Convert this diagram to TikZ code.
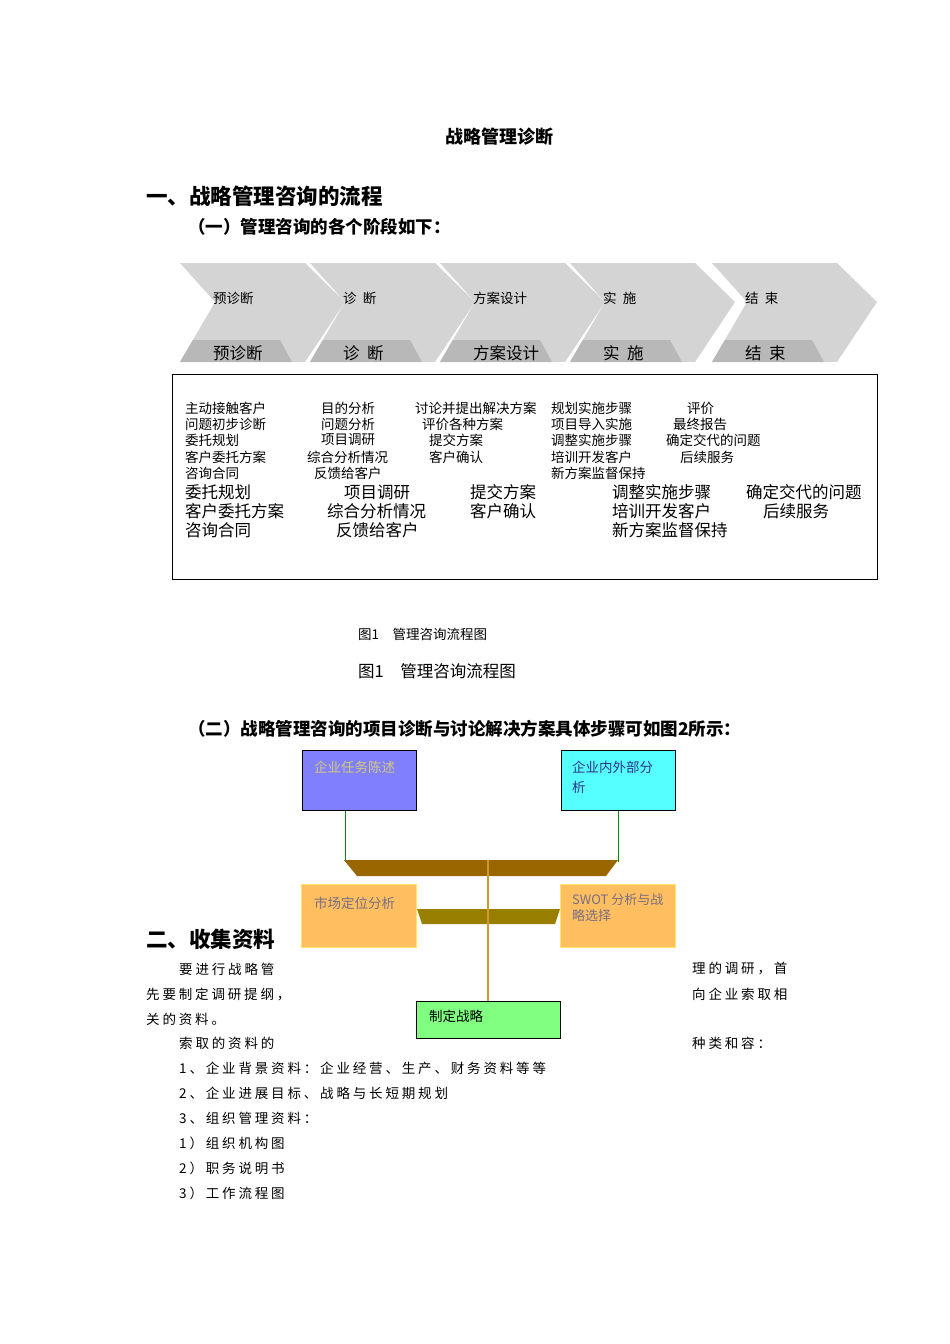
\documentclass[tikz,border=0pt]{standalone}
\usepackage{fontspec}
\setmainfont{Noto Sans CJK SC}
\newfontfamily\cjks[LetterSpace=21]{Noto Sans CJK SC}
\definecolor{brA}{RGB}{153,102,0}
\definecolor{brB}{RGB}{153,127,0}
\definecolor{stem}{RGB}{204,153,51}
\definecolor{bxA}{RGB}{128,128,255}
\definecolor{bxAt}{RGB}{210,200,120}
\definecolor{bxB}{RGB}{85,255,255}
\definecolor{bxBt}{RGB}{50,50,140}
\definecolor{org}{RGB}{255,191,96}
\definecolor{orgd}{RGB}{255,230,100}
\definecolor{orgt}{RGB}{120,110,130}
\definecolor{grn}{RGB}{128,255,128}
\begin{document}
\begin{tikzpicture}[x=1pt,y=-1pt,
  sm/.style={anchor=west,inner sep=0,font=\fontsize{13.5}{13.5}\selectfont},
  lg/.style={anchor=west,inner sep=0,font=\fontsize{16.5}{16.5}\selectfont},
  body/.style={anchor=west,inner sep=0,font=\cjks\fontsize{13.5}{13.5}\selectfont},
  box/.style={draw=black,line width=0.8pt,anchor=north west,inner sep=0},
  obox/.style={anchor=north west,inner sep=0,fill=org,draw=orgd,minimum width=115,minimum height=63},
  btx/.style={anchor=north west,inner sep=0,font=\fontsize{13.5}{13.5}\selectfont}]
\useasboundingbox (0,0) rectangle (950,1344);
% titles
\node[inner sep=0,font=\bfseries\fontsize{18}{18}\selectfont] (t0) at (499,137) {战略管理诊断};
\node[anchor=west,inner sep=0,font=\bfseries\fontsize{21.5}{21.5}\selectfont] (t1) at (146,196) {一、战略管理咨询的流程};
\node[anchor=west,inner sep=0,font=\bfseries\fontsize{17.5}{17.5}\selectfont] (t2) at (188,227) {（一）管理咨询的各个阶段如下：};
% chevrons
\foreach \s/\lab/\n in {180/预诊断/a,310/诊\ \ 断/b,440/方案设计/c,570/实\ \ 施/d,712/结\ \ 束/e}{
  \begin{scope}
  \clip (\s,263) -- (\s+125,263) -- (\s+165,302) -- (\s+125,362) -- (\s,362) -- (\s+35,302) -- cycle;
  \fill[black!17] (\s,263) rectangle (\s+170,362);
  \fill[black!28] (\s,340) -- (\s+100,340) -- (\s+112,362) -- (\s,362) -- cycle;
  \end{scope}
  \node[sm] (ct\n) at (\s+33,298) {\lab};
  \node[lg] (cb\n) at (\s+33,353) {\lab};
}
\draw[line width=0.9pt] (172,374) rectangle (877,579);
% small rows
\node[sm] (s11) at (185,408) {主动接触客户};
\node[sm] (s12) at (185,424) {问题初步诊断};
\node[sm] (s13) at (185,440) {委托规划};
\node[sm] (s14) at (185,457) {客户委托方案};
\node[sm] (s15) at (185,473) {咨询合同};
\node[sm] (s21) at (321,408) {目的分析};
\node[sm] (s22) at (321,424) {问题分析};
\node[sm] (s23) at (321,440) {项目调研};
\node[sm] (s24) at (307,457) {综合分析情况};
\node[sm] (s25) at (314,473) {反馈给客户};
\node[sm] (s31) at (415,408) {讨论并提出解决方案};
\node[sm] (s32) at (422,424) {评价各种方案};
\node[sm] (s33) at (429,440) {提交方案};
\node[sm] (s34) at (429,457) {客户确认};
\node[sm] (s41) at (551,408) {规划实施步骤};
\node[sm] (s42) at (551,424) {项目导入实施};
\node[sm] (s43) at (551,440) {调整实施步骤};
\node[sm] (s44) at (551,457) {培训开发客户};
\node[sm] (s45) at (551,473) {新方案监督保持};
\node[sm] (s51) at (687,408) {评价};
\node[sm] (s52) at (673,424) {最终报告};
\node[sm] (s53) at (666,440) {确定交代的问题};
\node[sm] (s54) at (680,457) {后续服务};
% large rows
\node[lg] (l11) at (185,492) {委托规划};
\node[lg] (l12) at (185,511) {客户委托方案};
\node[lg] (l13) at (185,530) {咨询合同};
\node[lg] (l21) at (344,492) {项目调研};
\node[lg] (l22) at (327,511) {综合分析情况};
\node[lg] (l23) at (336,530) {反馈给客户};
\node[lg] (l31) at (470,492) {提交方案};
\node[lg] (l32) at (470,511) {客户确认};
\node[lg] (l41) at (612,492) {调整实施步骤};
\node[lg] (l42) at (612,511) {培训开发客户};
\node[lg] (l43) at (612,530) {新方案监督保持};
\node[lg] (l51) at (746,492) {确定交代的问题};
\node[lg] (l52) at (763,511) {后续服务};
% captions
\node[sm] (cap1) at (358,634) {图1\quad 管理咨询流程图};
\node[lg] (cap2) at (358,671) {图1\quad 管理咨询流程图};
\node[anchor=west,inner sep=0,font=\bfseries\fontsize{17.5}{17.5}\selectfont] (t3) at (188,729) {（二）战略管理咨询的项目诊断与讨论解决方案具体步骤可如图2所示：};
% diagram 2
\draw[green!55!black,line width=1pt] (345,808) -- (345,862);
\draw[green!55!black,line width=1pt] (618,808) -- (618,862);
\fill[brA] (344,860) -- (618,860) -- (606,876) -- (357,876) -- cycle;
\fill[brB] (417,909) -- (560,909) -- (555,924) -- (422,924) -- cycle;
\draw[stem,line width=1.2pt] (488,860) -- (488,1001);
\node[box,fill=bxA,minimum width=114,minimum height=60] (b1) at (302,750) {};
\node[btx,text=bxAt] (b1t) at (314,761) {企业任务陈述};
\node[box,fill=bxB,minimum width=114,minimum height=60] (b2) at (561,750) {};
\node[btx,align=left,text=bxBt,font=\fontsize{13.5}{20}\selectfont] (b2t) at (572,761) {企业内外部分\\析};
\node[obox] (b3) at (301,884) {};
\node[btx,text=orgt] (b3t) at (314,897) {市场定位分析};
\node[obox] (b4) at (560,884) {};
\node[btx,align=left,text=orgt,font=\fontsize{13}{16}\selectfont] (b4t) at (572,893) {SWOT 分析与战\\略选择};
\node[box,fill=grn,minimum width=144,minimum height=37] (b5) at (416,1001) {};
\node[anchor=west,inner sep=0,font=\fontsize{13.5}{13.5}\selectfont] (b5t) at (429,1016) {制定战略};
% section 2
\node[anchor=west,inner sep=0,font=\bfseries\fontsize{21.5}{21.5}\selectfont] (t4) at (146,939) {二、收集资料};
\node[body] (p1) at (179,969) {要进行战略管};
\node[body] (p2) at (692,969) {理的调研，首};
\node[body] (p3) at (146,994) {先要制定调研提纲，};
\node[body] (p4) at (692,994) {向企业索取相};
\node[body] (p5) at (146,1019) {关的资料。};
\node[body] (p6) at (179,1043) {索取的资料的};
\node[body] (p7) at (692,1043) {种类和容：};
\node[body] (q1) at (179,1068) {1、企业背景资料：企业经营、生产、财务资料等等};
\node[body] (q2) at (179,1093) {2、企业进展目标、战略与长短期规划};
\node[body] (q3) at (179,1118) {3、组织管理资料：};
\node[body] (q4) at (179,1143) {1）组织机构图};
\node[body] (q5) at (179,1168) {2）职务说明书};
\node[body] (q6) at (179,1193) {3）工作流程图};
\end{tikzpicture}
\end{document}
